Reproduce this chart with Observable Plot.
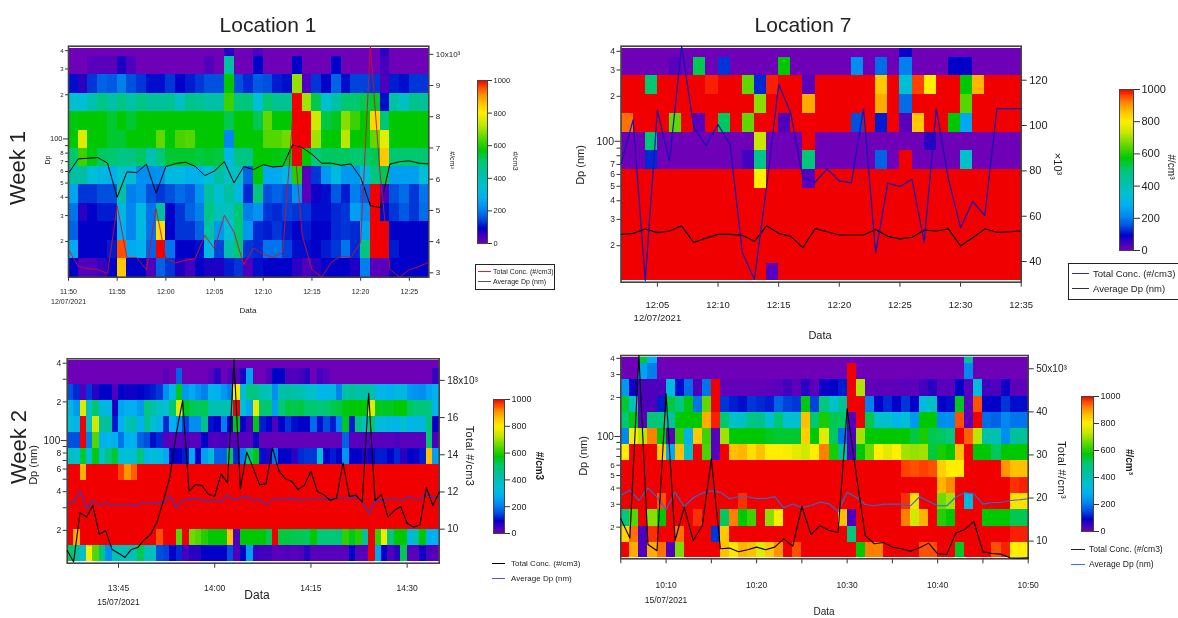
<!DOCTYPE html>
<html><head><meta charset="utf-8">
<script src="https://cdn.jsdelivr.net/npm/d3@7"></script>
<script src="https://cdn.jsdelivr.net/npm/@observablehq/plot@0.6"></script>
<style>
html,body{margin:0;padding:0;background:#fff;overflow:hidden}
#page{position:relative;width:1178px;height:618px;overflow:hidden;filter:blur(0.45px);font-family:"Liberation Sans",Arial,sans-serif;color:#222}
#page svg{position:absolute;left:0;top:0;background:transparent}
.t{position:absolute;white-space:nowrap;transform:translate(-50%,-50%)}
.box{position:absolute;border:1px solid #222;background:#fff}
.ln{position:absolute;height:0;border-top:1.5px solid #000}
.lg{position:absolute;white-space:nowrap;transform:translateY(-50%)}
</style></head><body><div id="page"></div>
<script>
const dpEdges=[15.3,20.4,27.3,36.4,48.6,65.1,86.4,115,154,205,274,366];
const colorStops=[0,50,90,150,210,280,350,430,500,570,650,730,800,860,920,960,1000];
const colorRange=["#6e00b8","#3800c0","#0000c8","#0050e0","#0088f0","#00b0f0","#00c0d0","#00c0a0","#00c870","#00c800","#60d800","#c8e800","#ffee00","#ffc000","#ff8000","#ff4000","#f00000"];

// ---- Week 1, Location 1
const p1Rows=[
[0,0,0,0,0,0,0,0,0,0,0,0,0,0,0,0,60,0,0,30,0,0,0,0,0,0,0,0,0,0,0,0,60,0,0,0,0],
[0,0,20,20,20,70,30,0,0,0,0,0,0,0,25,0,430,0,0,90,0,0,0,90,0,0,0,90,0,0,0,0,40,0,0,0,0],
[100,60,130,170,160,200,150,130,100,100,130,90,110,130,150,150,570,150,120,160,150,110,100,690,30,130,90,170,100,140,140,130,30,110,100,130,130],
[350,340,400,470,420,470,420,470,440,440,450,370,460,450,420,420,620,480,490,340,500,450,450,1000,700,520,350,420,500,500,520,540,100,420,370,460,440],
[560,570,570,570,540,570,540,570,570,570,570,570,570,570,570,570,520,570,570,520,650,570,570,1000,1000,740,530,550,680,620,570,830,490,570,570,570,570],
[570,760,570,570,540,540,570,570,570,650,570,630,640,570,570,570,210,570,570,570,640,640,660,1000,1000,700,570,570,720,570,570,650,770,570,570,570,570],
[500,620,560,510,500,470,470,510,400,480,540,540,540,530,540,530,310,470,470,570,570,560,550,1000,570,480,510,510,510,500,500,520,850,500,500,500,500],
[430,430,340,310,290,350,330,220,220,230,320,320,290,290,340,430,370,370,170,570,270,270,310,600,20,130,240,320,240,240,320,480,520,250,250,250,340],
[260,130,130,150,150,420,200,220,150,130,150,180,160,230,430,350,430,320,120,480,150,170,150,230,20,80,100,160,110,200,170,1000,30,150,180,130,190],
[190,60,90,110,110,310,210,320,190,430,90,130,170,200,470,380,380,500,200,230,130,120,140,130,130,100,100,120,130,250,220,1000,100,130,160,130,180],
[170,90,90,90,90,280,210,320,190,820,90,130,130,170,420,240,340,490,240,120,110,130,110,90,110,90,90,120,130,120,260,1000,1000,90,90,90,90],
[270,90,90,90,110,950,270,290,170,1000,190,90,90,100,310,140,410,500,130,120,190,190,140,100,100,90,110,130,190,120,470,1000,1000,110,90,90,90],
[90,30,30,50,90,850,90,90,30,170,130,70,40,90,70,70,110,130,30,100,90,90,90,60,30,60,90,90,90,70,200,20,20,90,90,90,90]];
const p1Conc=[3740,3210,3130,3110,2970,5140,3490,3490,3100,5050,3450,3320,3400,3460,4200,3770,4840,4300,3260,3800,3590,3500,3640,7880,4200,3100,2860,3340,3530,3500,3980,10260,6170,3110,2860,3100,3200,3340];
const p1Dp=[58.3,73.1,73.8,74.6,68.6,40,59.6,58.9,67.2,42.6,64.8,67.9,69.3,65.1,56.2,60.5,70,50.1,64.8,61.8,66.8,64.4,65.1,91,87.3,78.6,68.3,68.3,66.1,67.6,54.5,35.1,34,67.2,70,70.8,68.3,67.6];

// ---- Week 1, Location 7
const p2Full=[1e3,1e3,1e3,1e3,1e3,1e3,1e3,1e3,1e3,1e3,1e3,1e3,1e3,1e3,1e3,1e3,1e3,1e3,1e3,1e3,1e3,1e3,1e3,1e3,1e3,1e3,1e3,1e3,1e3,1e3,1e3,1e3,1e3];
const p2Rows=[
[0,0,0,0,0,0,0,0,0,0,0,0,0,0,0,0,0,0,0,0,0,0,0,80,0,0,0,0,0,0,0,0,0],
[0,0,0,0,20,0,520,0,130,0,0,0,0,570,0,0,0,0,0,220,0,180,0,200,0,0,0,90,90,0,0,0,0],
[1e3,1e3,500,1e3,1e3,1e3,1e3,980,1e3,1e3,650,120,980,1e3,1e3,20,1e3,1e3,1e3,1e3,1e3,850,1e3,340,960,800,1e3,1e3,570,870,1e3,1e3,1e3],
[1e3,1e3,1e3,1e3,1e3,1e3,1e3,1e3,1e3,1e3,1e3,680,1e3,1e3,1e3,880,1e3,1e3,1e3,1e3,1e3,880,1e3,180,1e3,1e3,1e3,1e3,640,1e3,1e3,1e3,1e3],
[930,1e3,1e3,1e3,650,1e3,20,1e3,510,1e3,650,1e3,1e3,30,1e3,1e3,1e3,1e3,1e3,150,1e3,110,1e3,20,850,1e3,1e3,570,270,1e3,1e3,1e3,1e3],
[0,0,500,0,0,0,0,0,0,0,0,730,0,0,0,1e3,0,0,0,0,0,0,0,0,0,60,0,0,0,0,0,0,0],
[0,0,120,0,0,0,0,0,0,0,40,460,0,0,0,490,0,0,0,0,0,170,0,1e3,0,0,0,0,360,0,0,0,0],
[1e3,1e3,1e3,1e3,1e3,1e3,1e3,1e3,1e3,1e3,1e3,800,1e3,1e3,1e3,20,1e3,1e3,1e3,1e3,1e3,1e3,1e3,1e3,1e3,1e3,1e3,1e3,1e3,1e3,1e3,1e3,1e3],
p2Full,p2Full,p2Full,p2Full,
[1e3,1e3,1e3,1e3,1e3,1e3,1e3,1e3,1e3,1e3,1e3,1e3,20,1e3,1e3,1e3,1e3,1e3,1e3,1e3,1e3,1e3,1e3,1e3,1e3,1e3,1e3,1e3,1e3,1e3,1e3,1e3,1e3]];
const p2Conc=[83100,102500,31600,106600,84300,135000,99300,91200,100400,91600,44100,32100,72800,118100,105400,76800,75000,80900,75600,74700,107400,43800,74600,73100,76300,48500,107400,76500,54900,66500,60300,107500,107500,107500];
const p2Dp=[23.8,24.2,25.9,24.5,25.1,27.2,21,22.5,23.8,23.8,23.5,21.4,27.2,24.2,23.1,19.4,26,24.8,23.6,23.6,23.6,25.7,23.1,22.2,22.8,25.4,25.1,25.9,19.9,22.6,25.9,24.6,24.8,25.1];

// ---- Week 2, Location 1
const p3Full=[1e3,1e3,1e3,1e3,1e3,1e3,1e3,1e3,1e3,1e3,1e3,1e3,1e3,1e3,1e3,1e3,1e3,1e3,1e3,1e3,1e3,1e3,1e3,1e3,1e3,1e3,1e3,1e3,1e3,1e3,1e3,1e3,1e3,1e3,1e3,1e3,1e3,1e3,1e3,1e3,1e3,1e3,1e3,1e3,1e3,1e3,1e3,1e3,1e3,1e3,1e3,1e3,1e3,1e3,1e3,1e3,1e3,1e3];
const p3Rows=[
[0,0,0,0,0,0,0,0,0,0,0,0,0,0,0,0,0,0,0,0,0,0,0,0,0,0,0,0,0,0,0,0,0,0,0,0,0,0,0,0,0,0,0,0,0,0,0,0,0,0,0,0,0,0,0,0,0,0],
[0,0,0,0,0,0,0,0,0,0,0,0,0,0,0,20,0,170,0,0,0,0,20,60,0,30,20,70,260,0,0,30,90,90,30,30,40,60,0,40,20,0,0,0,0,0,0,0,0,0,0,0,0,0,0,0,0,50],
[150,120,30,130,60,90,90,30,90,80,80,90,100,110,130,220,310,550,240,270,230,200,300,280,240,200,790,330,480,470,400,390,220,410,430,420,400,370,350,300,300,310,200,420,450,410,420,420,300,300,280,310,310,240,230,220,260,280],
[320,240,760,370,500,310,310,80,260,280,280,240,480,420,370,340,500,760,550,520,510,520,400,400,400,400,1000,340,260,770,500,500,250,480,530,520,530,500,500,480,500,520,530,560,570,570,570,760,550,550,550,570,570,510,490,490,470,300],
[340,300,1000,370,740,440,440,110,280,380,420,280,450,350,300,120,280,230,140,220,220,460,100,90,200,90,560,90,40,560,110,90,30,90,130,100,90,90,180,100,150,110,210,550,110,470,370,500,330,330,310,300,350,300,310,310,490,90],
[150,150,1000,200,640,280,300,280,190,280,290,170,150,100,120,20,20,20,30,20,20,90,30,30,40,20,20,20,20,80,10,10,10,10,10,10,10,10,10,10,10,10,10,170,20,20,20,20,20,20,20,30,20,20,20,20,490,30],
[380,350,540,350,560,350,480,540,340,340,350,480,300,340,320,270,90,90,110,270,90,250,330,170,170,520,120,200,480,560,100,60,190,90,90,60,120,130,130,340,90,110,90,230,90,90,60,80,110,110,90,120,60,90,80,110,860,250],
[1e3,1e3,870,1e3,1e3,1e3,1e3,1e3,960,900,940,1e3,1e3,1e3,1e3,1e3,1e3,1e3,1e3,1e3,1e3,1e3,1e3,1e3,1e3,1e3,1e3,1e3,1e3,1e3,1e3,1e3,1e3,1e3,1e3,1e3,1e3,1e3,1e3,1e3,1e3,1e3,1e3,1e3,1e3,1e3,1e3,1e3,1e3,1e3,1e3,1e3,1e3,1e3,1e3,1e3,1e3,1e3],
p3Full,p3Full,p3Full,
[1e3,880,1e3,1e3,1e3,1e3,1e3,1e3,1e3,1e3,1e3,1e3,1e3,1e3,950,1e3,1e3,640,1e3,660,640,600,570,570,570,860,30,570,570,570,570,520,1e3,530,530,520,520,510,570,490,490,490,490,610,550,600,440,1e3,610,780,480,570,570,300,400,570,290,280],
[510,430,350,790,640,480,220,390,390,390,390,520,380,380,150,140,90,120,40,60,60,90,90,90,90,150,30,90,250,50,40,40,20,20,30,20,30,60,20,20,20,20,20,20,90,20,20,1e3,260,90,30,60,520,20,20,80,30,20]];
const p3Conc=[8850,8240,10880,10650,11270,9730,9910,8910,8710,8480,8910,9010,9430,9710,10380,11540,12800,15130,16920,12040,12400,12350,11880,11770,12970,12470,19100,12170,14140,13280,12380,12440,14370,13150,12710,12580,12130,12370,13120,12030,11850,11560,11670,13570,11760,11830,11450,17310,11540,11860,10650,11000,11220,10320,10110,10230,12240,11270,11990];
const p3Dp=[32.7,33.1,40.8,29.4,34.1,31.7,32.7,31.2,31.5,32.1,31.5,31.7,33.1,32.5,32.9,32.5,37.2,30.2,34.1,34.7,35.6,34.7,34.1,34.5,33.7,37.7,34.5,36.1,36.8,34.3,34.7,31.7,34.7,35.1,35.3,35.3,34.7,34.3,35.1,35.1,35.1,35.3,35.7,35.7,35.6,36.1,34.1,26.9,34.1,33.9,35.1,35.1,34.1,36.1,35.7,35.1,39.1,36,35.7];

// ---- Week 2, Location 7
const p4Rows=[
[0,0,540,280,0,0,0,0,0,0,0,0,0,0,0,0,0,0,0,0,0,0,0,0,0,0,0,0,0,0,0,0,0,0,0,0,0,0,440,0,0,0,0,0,0],
[0,0,260,200,0,0,0,0,0,0,0,0,0,0,0,0,0,0,0,0,0,0,0,0,0,1e3,0,0,0,0,0,0,0,0,0,0,0,0,210,0,0,0,0,0,0],
[240,80,30,30,30,320,100,180,30,190,1e3,10,10,10,10,10,15,20,40,15,60,15,80,90,110,1e3,710,10,15,15,15,20,15,40,60,20,20,90,20,330,40,30,80,15,15],
[540,380,30,30,110,530,480,560,190,650,1e3,130,110,100,130,120,110,170,140,130,560,140,480,360,440,1e3,1e3,200,90,120,90,130,90,330,370,90,100,550,20,950,90,90,130,100,100],
[500,560,20,490,480,420,570,570,570,880,980,500,360,370,470,460,350,490,350,350,860,500,590,520,510,20,1e3,520,360,350,300,340,240,570,570,220,220,950,20,1e3,180,170,210,190,190],
[210,790,720,920,570,20,610,290,850,620,20,700,570,570,570,570,550,540,540,540,840,570,760,510,190,30,700,570,570,570,570,570,530,590,520,510,480,1e3,940,720,420,400,220,440,440],
[800,1e3,1e3,1e3,840,270,860,360,1e3,630,20,1e3,860,870,820,860,800,800,790,760,740,800,920,590,440,30,570,660,800,760,800,700,690,700,530,590,570,860,1e3,570,570,510,570,570,570],
[1e3,1e3,1e3,1e3,1e3,1e3,1e3,1e3,1e3,1e3,1e3,1e3,1e3,1e3,1e3,1e3,1e3,1e3,1e3,1e3,1e3,1e3,1e3,1e3,1e3,1e3,1e3,1e3,1e3,1e3,1e3,960,950,960,950,840,800,800,1e3,1e3,1e3,1e3,900,860,860],
[1e3,1e3,1e3,1e3,1e3,1e3,1e3,1e3,1e3,1e3,1e3,1e3,1e3,1e3,1e3,1e3,1e3,1e3,1e3,1e3,1e3,1e3,1e3,1e3,1e3,1e3,1e3,1e3,1e3,1e3,1e3,1e3,1e3,1e3,1e3,870,910,1e3,1e3,1e3,1e3,1e3,1e3,970,980],
[1e3,1e3,1e3,1e3,950,1e3,1e3,1e3,1e3,1e3,1e3,1e3,1e3,970,1e3,1e3,1e3,1e3,1e3,1e3,1e3,1e3,1e3,1e3,1e3,1e3,1e3,1e3,1e3,1e3,1e3,970,820,1e3,1e3,660,700,1e3,310,1e3,1e3,1e3,1e3,820,820],
[480,640,1e3,680,570,1e3,1e3,1e3,970,1e3,1e3,510,920,570,620,1e3,680,790,1e3,1e3,1e3,1e3,1e3,1e3,860,30,1e3,1e3,1e3,1e3,1e3,920,740,870,1e3,600,570,1e3,1e3,1e3,570,570,570,520,520],
[830,930,30,970,1e3,1e3,930,1e3,1e3,1e3,130,850,1e3,1e3,1e3,1e3,1e3,1e3,1e3,1e3,1e3,1e3,1e3,1e3,1e3,480,1e3,1e3,1e3,1e3,1e3,1e3,1e3,1e3,1e3,1e3,1e3,1e3,1e3,1e3,1e3,1e3,1e3,980,980],
[1e3,880,30,880,930,30,670,1e3,1e3,1e3,1e3,860,810,870,860,760,850,900,1e3,950,1e3,1e3,1e3,1e3,1e3,1e3,570,920,920,1e3,1e3,1e3,1e3,950,950,1e3,1e3,550,1e3,1e3,1e3,950,980,800,800]];
const p4Conc=[15180,10700,53080,9230,7760,44180,10150,17890,10150,13630,29100,8220,8380,7530,7990,8610,7990,8610,10540,8840,18040,11550,13560,12470,12010,40700,25620,11310,9380,9690,8610,8220,7680,8450,9540,7060,6910,11860,12710,14560,7530,7140,6980,6130,6060,6130];
const p4Dp=[35.1,38.4,32.1,40.2,34,27.2,37.2,28.8,33.7,36.6,38.1,37.2,33.1,34.3,34.3,33.3,33.3,34.4,28.2,30.1,28.2,29.4,31.2,30.3,26.4,37.2,34,29.9,29.2,30.1,30.1,30.1,29.2,34.3,31.7,29.2,29.2,34,37,36.1,30.1,31,31,32.1,32.5,33.1];

const dpTicks=[20,30,40,50,60,70,80,90,200,300,400];
const barSteps=d3.range(0,1000,4);
const page=document.getElementById("page");
const FONT='"Liberation Sans",Arial,sans-serif';
const utc=(d,h,m)=>new Date(Date.UTC(2021,6,d,h,m));
const MIN=60000;

function panel(c){
  const t0=+c.start, n=c.rows[0].length, at=i=>new Date(t0+i*MIN);
  const edges=[c.cellBottom,...dpEdges,c.cellTop];
  const cells=c.rows.flatMap((row,r)=>row.map((v,i)=>({i,v,lo:edges[12-r],hi:edges[13-r]})));
  const xDomain=[at(0),at(n)];
  const margins={marginLeft:c.x0,marginRight:1178-c.x1,marginTop:c.y0,marginBottom:618-c.y1};
  const base={width:1178,height:618,...margins,style:{background:"transparent",fontFamily:FONT}};
  const xTicks=c.xTicks.map(m=>at(m));
  const lower=Plot.plot({...base,
    x:{type:"utc",domain:xDomain,axis:null},
    y:{type:"log",domain:c.dpDomain,axis:null},
    color:{type:"linear",domain:colorStops,range:colorRange,clamp:true},
    marks:[
      Plot.rect(cells,{x1:d=>at(d.i),x2:d=>at(d.i+1),y1:"lo",y2:"hi",fill:"v",shapeRendering:"crispEdges"}),
      Plot.axisX({ticks:xTicks,label:null,tickSize:c.tickSize,tickPadding:c.xPad,fontSize:c.xFont,lineHeight:c.lh,stroke:"#333",fill:"#222",
        tickFormat:d=>{const s=d3.utcFormat("%H:%M")(d);const m=(d-t0)/MIN;
          if(c.minor&&c.minor.includes(m))return "";return m===c.dateAt?s+"\n"+c.date:s;}}),
      Plot.axisY({ticks:dpTicks,label:null,tickSize:c.tickSize-1,tickPadding:2,fontSize:c.yFont,stroke:"#333",fill:"#222",
        tickFormat:d=>c.hideY.includes(d)?"":String(d).replace(/0+$/,"")}),
      Plot.axisY({ticks:[100],label:null,tickSize:c.tickSize+1,tickPadding:1,fontSize:c.y100,stroke:"#333",fill:"#222",tickFormat:d=>String(d)}),
      Plot.line(c.dp,{x:(d,i)=>at(i),y:d=>d,stroke:c.dpColor,strokeWidth:c.dpWidth,curve:"linear"}),
      Plot.frame({stroke:"#444",strokeWidth:1.6})
    ]});
  const upper=Plot.plot({...base,
    x:{type:"utc",domain:xDomain,axis:null},
    y:{type:"linear",domain:c.concDomain,axis:null},
    marks:[
      Plot.axisY({anchor:"right",ticks:c.concTicks,label:null,tickSize:c.tickSize,tickPadding:3,fontSize:c.rFont,stroke:"#333",fill:"#222",
        tickFormat:d=>{const k=d/1000;return d===c.concTop?k+"x10\u00b3":String(k);}}),
      Plot.line(c.conc,{x:(d,i)=>at(i),y:d=>d,stroke:c.concColor,strokeWidth:c.concWidth,curve:"linear"})
    ]});
  page.append(lower,upper);
}
function colorBar(c){
  const bar=Plot.plot({width:1178,height:618,marginLeft:c.x0,marginRight:1178-c.x1,marginTop:c.y0,marginBottom:618-c.y1,
    style:{background:"transparent",fontFamily:FONT},
    x:{domain:[0,1],axis:null},y:{domain:[0,1000],axis:null},
    color:{type:"linear",domain:colorStops,range:colorRange,clamp:true},
    marks:[
      Plot.rect(barSteps,{x1:()=>0,x2:()=>1,y1:d=>d,y2:d=>d+4,fill:d=>d+2,shapeRendering:"crispEdges"}),
      Plot.axisY({anchor:"right",ticks:[0,200,400,600,800,1000],label:null,tickSize:c.tick,tickPadding:2,fontSize:c.font,stroke:"#333",fill:"#222",tickFormat:d=>String(d)}),
      Plot.frame({stroke:"#444",strokeWidth:1})
    ]});
  page.append(bar);
}
function label(s,x,y,size,rot=0,extra=""){
  const e=document.createElement("div");e.className="t";e.textContent=s;
  e.style.cssText=`left:${x}px;top:${y}px;font-size:${size}px;transform:translate(-50%,-50%) rotate(${rot}deg);${extra}`;
  page.append(e);
}
function legend(c){
  if(c.box){const b=document.createElement("div");b.className="box";
    b.style.cssText=`left:${c.box[0]}px;top:${c.box[1]}px;width:${c.box[2]}px;height:${c.box[3]}px`;page.append(b);}
  c.items.forEach(([s,y,col])=>{
    const l=document.createElement("div");l.className="ln";
    l.style.cssText=`left:${c.lx}px;top:${y}px;width:${c.lw}px;border-top-color:${col}`;page.append(l);
    const t=document.createElement("div");t.className="lg";t.textContent=s;
    t.style.cssText=`left:${c.tx}px;top:${y}px;font-size:${c.size}px`;page.append(t);
  });
}

panel({rows:p1Rows,dp:p1Dp,conc:p1Conc,start:utc(12,11,50),date:"12/07/2021",dateAt:0,
  xTicks:[0,5,10,15,20,25,30,35],x0:68,x1:428.3,y0:45.7,y1:276.7,
  dpDomain:[11.4,429],cellBottom:11.4,cellTop:415,concDomain:[2860,10260],
  concTicks:[3000,4000,5000,6000,7000,8000,9000,10000],concTop:10000,
  hideY:[],tickSize:4,xPad:6,xFont:7,lh:1.43,yFont:6,y100:7.5,rFont:8,
  dpColor:"#000",dpWidth:1,concColor:"#d0102c",concWidth:.9});
panel({rows:p2Rows,dp:p2Dp,conc:p2Conc,start:utc(12,12,2),date:"12/07/2021",dateAt:3,
  xTicks:[3,8,13,18,23,28,33],x0:620.5,x1:1020.7,y0:45.7,y1:281.7,
  dpDomain:[11.4,433],cellBottom:11.7,cellTop:419,concDomain:[30900,135000],
  concTicks:[40000,60000,80000,100000,120000],concTop:0,
  hideY:[80,90],tickSize:5,xPad:12,xFont:9.5,lh:1.37,yFont:8.5,y100:10.5,rFont:11,
  dpColor:"#000",dpWidth:1.2,concColor:"#1414b4",concWidth:1.2});
panel({rows:p3Rows,dp:p3Dp,conc:p3Conc,start:utc(15,13,37),date:"15/07/2021",dateAt:8,
  xTicks:[8,23,38,53],x0:66.7,x1:438.7,y0:358.3,y1:562.7,
  dpDomain:[11.1,433],cellBottom:11.5,cellTop:420,concDomain:[8170,19160],
  concTicks:[10000,12000,14000,16000,18000],concTop:18000,
  hideY:[30,50,70,90,300],tickSize:5,xPad:13,xFont:8.5,lh:1.65,yFont:8.5,y100:10,rFont:10,
  dpColor:"#2a3ccc",dpWidth:1.1,concColor:"#000",concWidth:1.1});
panel({rows:p4Rows,dp:p4Dp,conc:p4Conc,start:utc(15,10,5),date:"15/07/2021",dateAt:5,
  xTicks:[0,5,10,15,20,25,30,35,40,45],minor:[0,10,20,30,40],x0:620.3,x1:1027.7,y0:355,y1:558.3,
  dpDomain:[11.4,421],cellBottom:11.6,cellTop:404,concDomain:[5900,53080],
  concTicks:[10000,20000,30000,40000,50000],concTop:50000,
  hideY:[70,80,90],tickSize:5,xPad:14,xFont:8.5,lh:1.76,yFont:8,y100:10,rFont:10,
  dpColor:"#2a6cd8",dpWidth:1.1,concColor:"#000",concWidth:1.1});

colorBar({x0:477,x1:487,y0:80,y1:243,tick:4,font:7.5});
colorBar({x0:1119,x1:1133,y0:89,y1:250,tick:6,font:11});
colorBar({x0:493,x1:504,y0:399,y1:533,tick:5,font:9});
colorBar({x0:1081,x1:1093,y0:396,y1:531,tick:5,font:9});

label("Location 1",268,25,21);
label("Location 7",803,25,21);
label("Week 1",18,168,22,-90);
label("Week 2",19,447,22,-90);
label("Dp",47,160,7,-90);
label("Dp (nm)",580,165,11,-90);
label("Dp (nm)",33,465,11,-90);
label("Dp (nm)",583,456,11,-90);
label("Data",248,310,8);
label("Data",820,335,11);
label("Data",257,595,12);
label("Data",824,611,10);
label("#/cm\u00b3",452,160,7,90);
label("#/cm3",515,161,7,90);
label("\u00d710\u00b3",1058,164,11,90);
label("#/cm\u00b3",1171,167,10,90);
label("Total  #/cm3",470,456,11,90,"letter-spacing:.4px");
label("#/cm3",539,466,10,90,"font-weight:bold");
label("Total #/cm\u00b3",1062,470,11,90,"letter-spacing:.4px");
label("#/cm\u00b3",1129,462,10,90,"font-weight:bold");

legend({box:[475,264,78,24],lx:478,lw:13,tx:493,size:7,items:[["Total Conc. (#/cm3)",271,"#e02030"],["Average Dp (nm)",281,"#555"]]});
legend({box:[1068,263,120,35],lx:1072,lw:17,tx:1093,size:9.5,items:[["Total Conc. (#/cm3)",273,"#2a2ac8"],["Average Dp (nm)",288,"#333"]]});
legend({lx:492,lw:13,tx:511,size:8,items:[["Total Conc. (#/cm3)",563,"#000"],["Average Dp (nm)",578,"#4a5ad8"]]});
legend({lx:1071,lw:14,tx:1089,size:8.5,items:[["Total Conc. (#/cm3)",549,"#222"],["Average Dp (nm)",564,"#2a7ae0"]]});
</script></body></html>
